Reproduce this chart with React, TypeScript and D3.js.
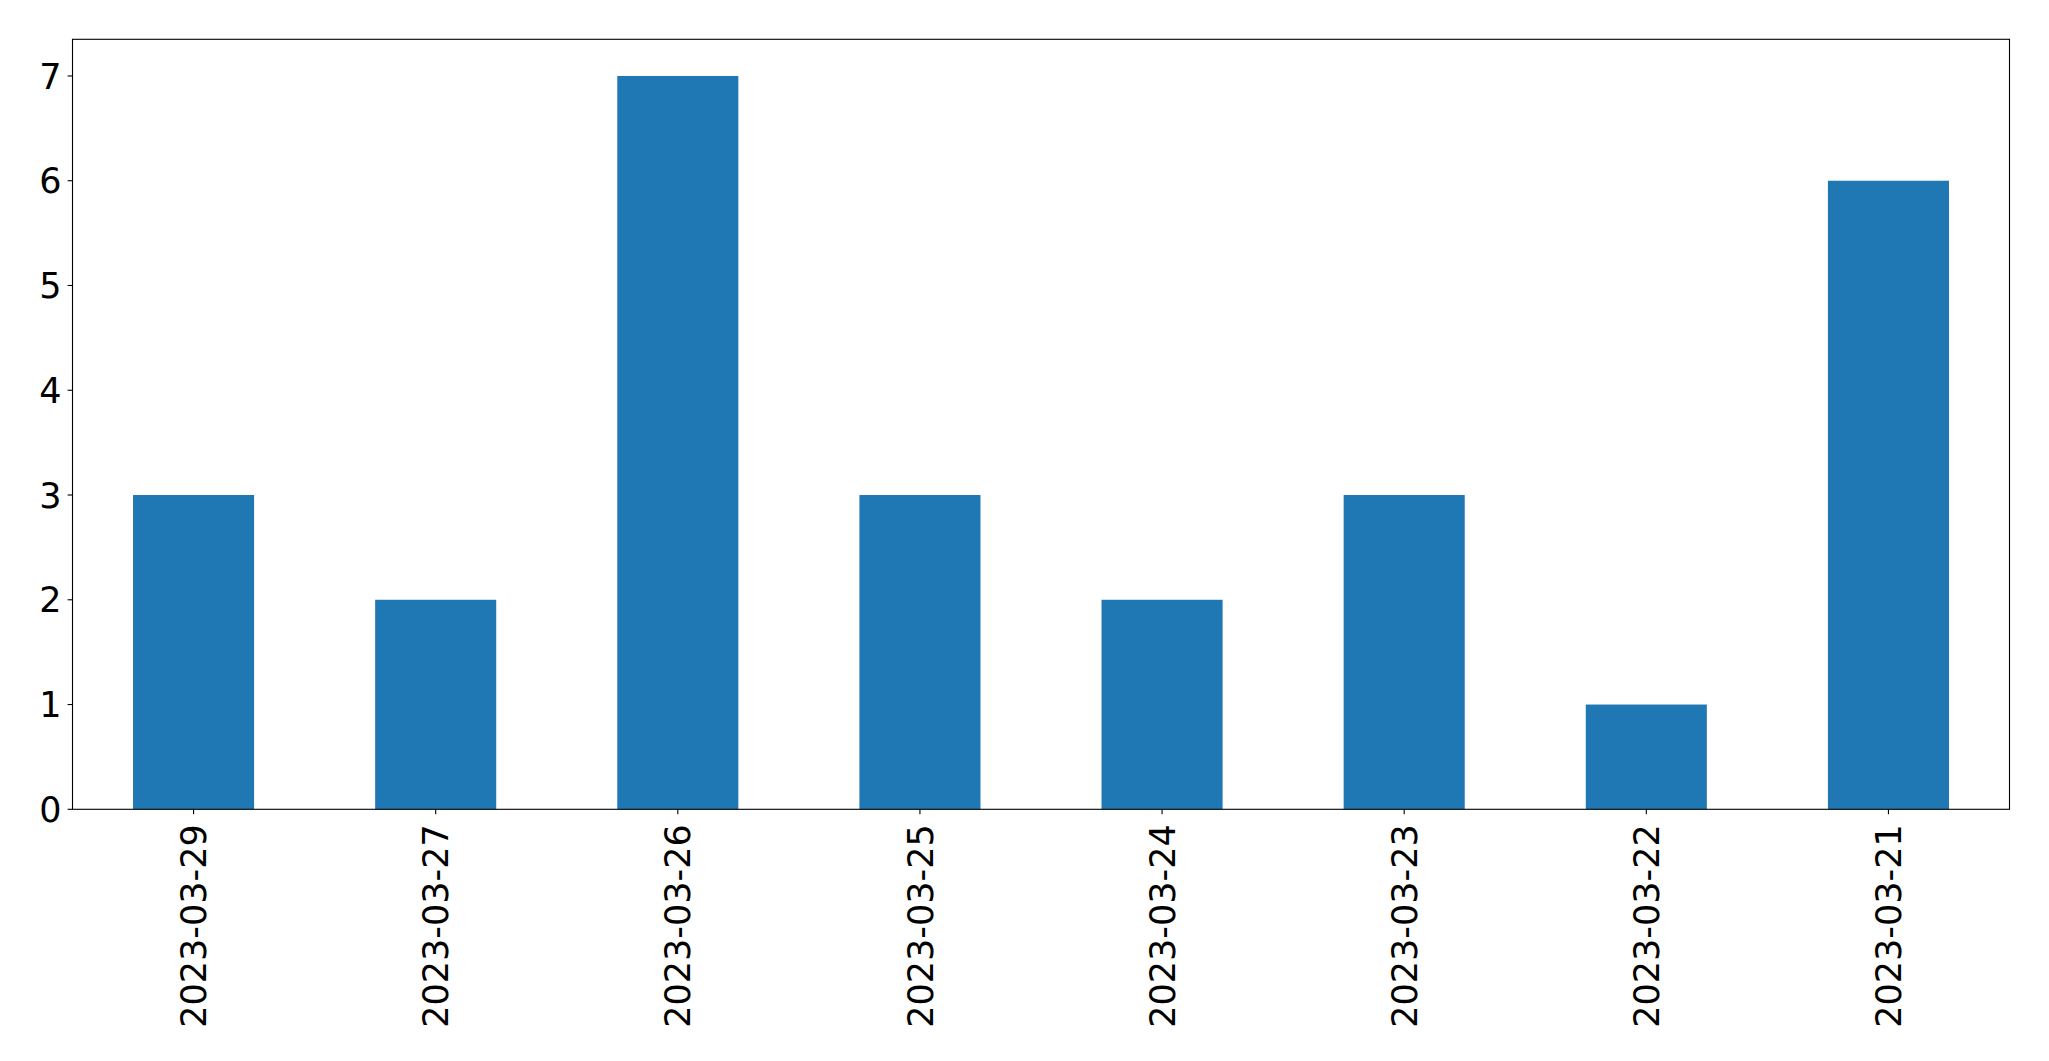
import React from "react";
import * as d3 from "d3";

const categories = ["2023-03-29", "2023-03-27", "2023-03-26", "2023-03-25", "2023-03-24", "2023-03-23", "2023-03-22", "2023-03-21"];
const values = [3, 2, 7, 3, 2, 3, 1, 6];
const yTicks = [0, 1, 2, 3, 4, 5, 6, 7];

const W = 2049;
const H = 1061;
const M = { left: 72.5, right: 2009.5, top: 39.3, bottom: 809.3 };
const FONT = "'DejaVu Sans', sans-serif";
const FS = 35;

export default function App() {
  const x = d3
    .scaleBand<string>()
    .domain(categories)
    .range([M.left, M.right])
    .paddingInner(0.5)
    .paddingOuter(0.25);
  const y = d3.scaleLinear().domain([0, 7.35]).range([M.bottom, M.top]);

  return (
    <svg
      width={W}
      height={H}
      style={{ position: "absolute", left: 0, top: 0, background: "#fff" }}
      fontFamily={FONT}
    >
      <rect x={0} y={0} width={W} height={H} fill="#fff" />
      {categories.map((c, i) => (
        <rect
          key={c}
          x={x(c)}
          y={y(values[i])}
          width={x.bandwidth()}
          height={y(0) - y(values[i])}
          fill="#1f77b4"
        />
      ))}
      <rect
        x={M.left}
        y={M.top}
        width={M.right - M.left}
        height={M.bottom - M.top}
        fill="none"
        stroke="#000"
        strokeWidth={1.1}
      />
      {yTicks.map((t) => (
        <g key={t} transform={`translate(0,${y(t)})`}>
          <line x1={M.left - 4.9} x2={M.left} stroke="#000" strokeWidth={1.1} />
          <text
            x={M.left - 11}
            dy="0.36em"
            textAnchor="end"
            fontSize={FS}
            fill="#000"
          >
            {t}
          </text>
        </g>
      ))}
      {categories.map((c) => {
        const cx = (x(c) as number) + x.bandwidth() / 2;
        return (
          <g key={c}>
            <line x1={cx} x2={cx} y1={M.bottom} y2={M.bottom + 4.9} stroke="#000" strokeWidth={1.1} />
            <text
              transform={`translate(${cx},${M.bottom + 15}) rotate(-90)`}
              textAnchor="end"
              dy="0.36em"
              fontSize={FS}
              fill="#000"
            >
              {c}
            </text>
          </g>
        );
      })}
    </svg>
  );
}
